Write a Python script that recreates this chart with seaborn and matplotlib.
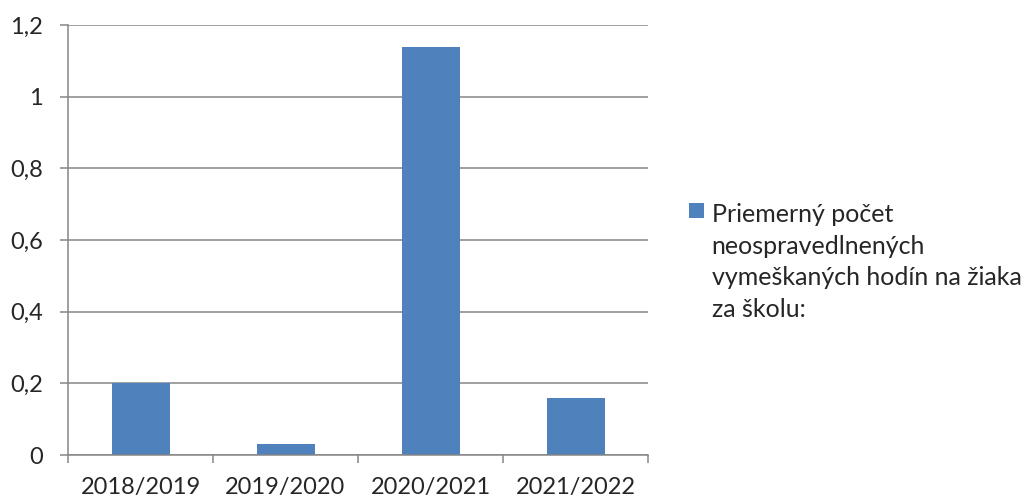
import numpy as np
import pandas as pd
import seaborn as sns
from matplotlib import pyplot as plt
from matplotlib.patches import Patch
from matplotlib.ticker import FuncFormatter, FixedLocator

# data
years = ['2018/2019', '2019/2020', '2020/2021', '2021/2022']
hours = [0.20, 0.03, 1.14, 0.16]
legend_label = 'Priemerný počet\nneospravedlnených\nvymeškaných hodín na žiaka\nza školu:'
y_ticks = [0, 0.2, 0.4, 0.6, 0.8, 1.0, 1.2]

bar_color = '#4F81BD'
grid_color = '#868686'

sns.set_style('white')
plt.rcParams['font.family'] = ['Lato', 'DejaVu Sans']
plt.rcParams['font.size'] = 17

df = pd.DataFrame({'year': years, 'hours': hours})

fig = plt.figure(figsize=(10.22, 4.99), dpi=100)
ax = fig.add_axes([68 / 1022, 1 - 455 / 499, (648 - 68) / 1022, (455 - 25) / 499])

sns.barplot(data=df, x='year', y='hours', color=bar_color, width=0.4,
            saturation=1, edgecolor='none', ax=ax)

ax.set_xlim(-0.5, len(years) - 0.5)
ax.set_ylim(0, 1.2)
ax.set_yticks(y_ticks)
ax.yaxis.set_major_formatter(FuncFormatter(lambda v, p: f'{v:g}'.replace('.', ',')))
ax.grid(axis='y', color=grid_color, linewidth=1.1)
ax.set_axisbelow(True)
ax.set_xlabel('')
ax.set_ylabel('')

for s in ['top', 'right']:
    ax.spines[s].set_visible(False)
for s in ['left', 'bottom']:
    ax.spines[s].set_color(grid_color)
    ax.spines[s].set_linewidth(1.1)

ax.xaxis.set_minor_locator(FixedLocator(np.arange(-0.5, len(years), 1.0)))
ax.tick_params(axis='x', which='major', length=0, pad=16, labelsize=17)
ax.tick_params(axis='x', which='minor', length=6, width=1.1, color=grid_color,
               direction='out', bottom=True)
ax.tick_params(axis='y', which='major', length=6, width=1.1, color=grid_color,
               direction='out', left=True, pad=12, labelsize=17)

leg = fig.legend([Patch(facecolor=bar_color, edgecolor='none')], [legend_label],
                 loc='upper left', bbox_to_anchor=(689 / 1022, 1 - 203 / 499),
                 frameon=False, borderpad=0, borderaxespad=0,
                 handlelength=0.6, handleheight=0.55, handletextpad=0.3,
                 fontsize=18)
for t in leg.get_texts():
    t.set_linespacing(1.45)
# put the key square next to the first line, as in the original
for col in leg._legend_handle_box.get_children():
    for row in col.get_children():
        row.align = 'top'

fig.savefig('out.png', dpi=100)
